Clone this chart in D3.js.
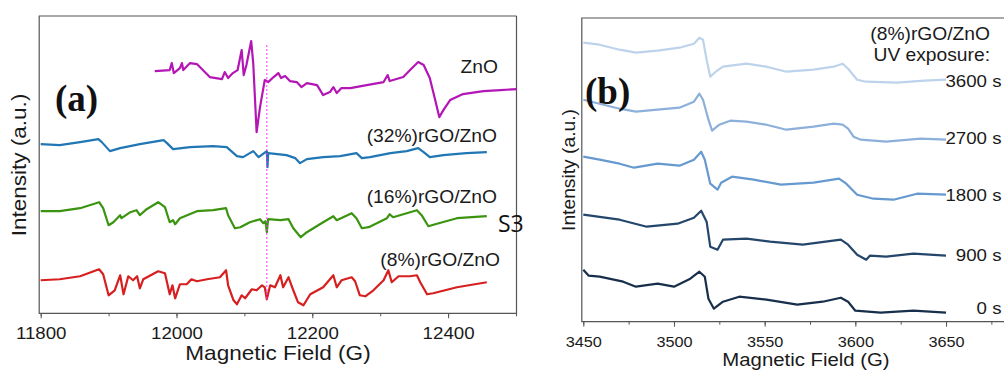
<!DOCTYPE html>
<html>
<head>
<meta charset="utf-8">
<script src="https://cdn.jsdelivr.net/npm/d3@7"></script>
<style>
  body { margin: 0; background: #fff; }
  svg { display: block; font-family: "Liberation Sans", Arial, sans-serif; }
  .axis path, .axis line { stroke: #555; }
</style>
</head>
<body>
<svg id="chart" width="1004" height="370"></svg>
<script>
// ---- panel (a) : EPR spectra, field in G, intensity in a.u. (stacked)
var znoSpec = [[11968,242],[11990,243],[11993,250],[11996,240],[12005,245],[12008,250],[12010,243],[12020,250],[12030,249],[12049,236],[12067,234],[12071,241],[12076,235],[12083,240],[12090,243],[12096,263],[12099,238],[12103,248],[12110,272],[12113,250],[12118,181],[12123,206],[12130,233],[12135,231],[12143,236],[12150,240],[12154,235],[12160,237],[12167,232],[12177,231],[12184,226],[12192,230],[12207,228],[12216,218],[12226,221],[12231,226],[12236,220],[12243,225],[12256,225],[12280,228],[12305,231],[12311,238],[12314,232],[12334,236],[12344,243],[12356,251],[12364,248],[12373,235],[12381,213],[12387,196],[12393,203],[12403,213],[12422,219],[12452,222],[12477,223],[12501,224]];
var rgo32Spec = [[11800,169],[11828,168],[11858,171],[11885,174],[11890,171],[11902,162],[11917,165],[11946,169],[11981,173],[11986,170],[11995,164],[12020,166],[12054,167],[12074,166],[12089,157],[12098,156],[12113,162],[12121,156],[12127,159],[12133,162],[12134,146],[12135,160],[12162,158],[12175,155],[12182,150],[12192,154],[12216,156],[12241,157],[12265,160],[12273,155],[12285,156],[12315,160],[12339,162],[12356,165],[12364,161],[12373,156],[12393,158],[12427,160],[12457,161]];
var rgo16Spec = [[11800,102],[11828,102],[11858,105],[11886,111],[11892,105],[11900,88],[11907,91],[11917,98],[11919,95],[11932,101],[11941,103],[11946,98],[11956,104],[11973,111],[11983,106],[11990,91],[11995,93],[11998,89],[12005,95],[12030,102],[12054,103],[12073,105],[12076,98],[12086,85],[12094,86],[12108,91],[12123,94],[12128,90],[12131,92],[12133,81],[12135,94],[12153,93],[12165,94],[12172,85],[12183,76],[12192,81],[12216,91],[12231,97],[12236,93],[12258,100],[12265,95],[12273,85],[12283,86],[12310,95],[12314,99],[12319,96],[12354,103],[12361,98],[12371,87],[12381,89],[12413,95],[12457,97]];
var rgo8Spec = [[11800,33],[11828,34],[11858,37],[11886,44],[11892,39],[11900,18],[11909,23],[11917,38],[11922,19],[11929,37],[11936,33],[11942,37],[11946,25],[11951,34],[11973,42],[11983,40],[11990,19],[11994,28],[11998,15],[12005,29],[12015,29],[12022,34],[12030,32],[12045,34],[12064,36],[12073,43],[12076,28],[12084,13],[12089,9],[12096,18],[12101,15],[12111,24],[12118,23],[12126,28],[12130,26],[12133,14],[12138,28],[12145,26],[12153,38],[12157,26],[12165,36],[12172,23],[12179,11],[12187,8],[12197,19],[12216,26],[12231,38],[12236,26],[12243,33],[12258,36],[12263,32],[12270,18],[12278,17],[12290,23],[12305,33],[12312,43],[12317,31],[12327,37],[12344,37],[12354,38],[12359,31],[12369,19],[12378,20],[12413,26],[12457,31]];
var seriesA = ["ZnO", "(32%)rGO/ZnO", "(16%)rGO/ZnO", "(8%)rGO/ZnO"];
var ticksA = [11800, 12000, 12200, 12400];
var markerField = 12133;   // dotted reference line

// ---- panel (b) : (8%)rGO/ZnO vs UV exposure
var uv3600 = [[3450,279],[3459,277],[3470,272],[3479,269],[3491,271],[3503,274],[3511,278],[3514,284],[3516,282],[3518,262],[3520,245],[3523,250],[3527,255],[3540,258],[3551,255],[3562,250],[3577,252],[3588,255],[3593,258],[3596,253],[3601,242],[3606,240],[3623,239],[3638,241],[3650,242]];
var uv2700 = [[3450,222],[3459,218],[3470,213],[3479,210],[3491,212],[3503,214],[3511,220],[3514,228],[3516,222],[3519,202],[3521,191],[3525,197],[3531,201],[3540,200],[3551,197],[3562,192],[3577,195],[3588,198],[3593,197],[3596,193],[3599,185],[3603,182],[3617,180],[3636,183],[3650,182]];
var uv1800 = [[3450,165],[3459,162],[3470,158],[3478,154],[3491,158],[3503,156],[3511,162],[3515,170],[3517,162],[3520,138],[3524,132],[3526,139],[3532,145],[3544,142],[3559,137],[3577,139],[3591,143],[3595,138],[3601,127],[3610,123],[3621,122],[3634,128],[3650,127]];
var uv900 = [[3450,107],[3470,102],[3485,95],[3502,98],[3511,104],[3515,111],[3518,100],[3520,75],[3524,72],[3527,82],[3540,83],[3553,80],[3571,77],[3592,82],[3596,77],[3601,67],[3606,62],[3608,66],[3617,65],[3632,68],[3650,66]];
var uv0 = [[3450,52],[3453,46],[3459,45],[3472,40],[3479,35],[3491,38],[3500,35],[3509,43],[3514,50],[3517,45],[3519,23],[3522,13],[3527,20],[3536,25],[3551,22],[3568,17],[3582,20],[3592,24],[3596,20],[3600,11],[3614,9],[3632,11],[3650,9]];
var seriesB = ["3600 s", "2700 s", "1800 s", "900 s", "0 s"];
var ticksB = [3450, 3500, 3550, 3600, 3650];

var SX = 1.1; // text in the figure is a bit wide
var ink = "#1a1a1a";

var svg = d3.select("#chart");
svg.append("rect").attr("width", 1004).attr("height", 370).attr("fill", "#fff");

function txt(g, x, y, s, size, anchor, extra) {
  var t = g.append("text")
    .attr("transform", "translate(" + x + "," + y + ")" + (extra || "") + " scale(" + SX + ",1)")
    .attr("font-size", size)
    .attr("text-anchor", anchor || "start")
    .attr("fill", ink)
    .text(s);
  return t;
}

function drawPanel(opt) {
  var g = svg.append("g");
  var x = d3.scaleLinear().domain(opt.xDomain).range(opt.xRange);
  var y = d3.scaleLinear().domain(opt.yDomain).range(opt.yRange);

  // minor ticks
  g.append("g").attr("class", "axis")
    .attr("transform", "translate(0," + opt.yRange[0] + ")")
    .call(d3.axisBottom(x).tickValues(opt.minor).tickSize(3).tickSizeOuter(0).tickFormat(""))
    .select(".domain").remove();
  // major ticks + labels
  var ax = g.append("g").attr("class", "axis")
    .attr("transform", "translate(0," + opt.yRange[0] + ")")
    .call(d3.axisBottom(x).tickValues(opt.major).tickSize(5).tickSizeOuter(0).tickFormat(d3.format("d")));
  ax.select(".domain").remove();
  ax.selectAll("text")
    .attr("dy", null).attr("y", opt.tickY)
    .attr("font-size", opt.tickSize)
    .attr("font-family", "Liberation Sans, Arial, sans-serif")
    .attr("fill", ink)
    .attr("transform", "scale(" + SX + ",1)");

  // frame
  var x0 = opt.xRange[0] - 1.5, x1 = opt.frameRight;
  g.append("path")
    .attr("d", "M" + x1 + "," + opt.yRange[1] + "H" + x0 + "V" + opt.yRange[0] + "H" + x1 + (opt.closed ? "V" + opt.yRange[1] : ""))
    .attr("fill", "none").attr("stroke", "#555").attr("stroke-width", 1.2);

  var line = d3.line().x(function(d) { return x(d[0]); }).y(function(d) { return y(d[1]); });
  opt.curves.forEach(function(c) {
    g.append("path").datum(c.data)
      .attr("d", line)
      .attr("fill", "none")
      .attr("stroke", c.color)
      .attr("stroke-width", 2.2)
      .attr("stroke-linejoin", "round");
  });
  return { g: g, x: x, y: y };
}

// ---------- panel (a)
var pa = drawPanel({
  xDomain: [11800, 12500], xRange: [40.7, 516],
  yDomain: [0, 297], yRange: [313.3, 16],
  major: ticksA, minor: d3.range(11800, 12501, 100),
  tickY: 26, tickSize: 17,
  frameRight: 516.5, closed: true,
  curves: [
    { data: znoSpec, color: "#b416b6" },
    { data: rgo32Spec, color: "#2077b4" },
    { data: rgo16Spec, color: "#3b9410" },
    { data: rgo8Spec, color: "#d71f1f" }
  ]
});

pa.g.append("line")
  .attr("x1", pa.x(markerField)).attr("x2", pa.x(markerField))
  .attr("y1", pa.y(268)).attr("y2", pa.y(13))
  .attr("stroke", "#ff33ff").attr("stroke-width", 1)
  .attr("stroke-dasharray", "2,2");

var labA = [[498, 72.5], [497, 141.5], [497, 202.5], [500, 266]];
seriesA.forEach(function(s, i) { txt(pa.g, labA[i][0], labA[i][1], s, 17.5, "end"); });

pa.g.append("text")
  .attr("x", 55).attr("y", 111)
  .attr("font-family", "Liberation Serif, Times New Roman, serif")
  .attr("font-weight", "bold").attr("font-size", 37)
  .attr("fill", "#111").text("(a)");

txt(pa.g, 278, 360, "Magnetic Field (G)", 20.5, "middle");
txt(pa.g, 26, 165, "Intensity (a.u.)", 20.5, "middle", " rotate(-90)");

svg.append("text")
  .attr("x", 498).attr("y", 231.5)
  .attr("font-family", "Open Sans, Noto Sans, sans-serif")
  .attr("font-size", 23).attr("fill", "#111").text("S3");

// ---------- panel (b)
var pb = drawPanel({
  xDomain: [3450, 3700], xRange: [583.3, 1036.7],
  yDomain: [0, 303.7], yRange: [321.7, 18],
  major: ticksB, minor: d3.range(3450, 3701, 25),
  tickY: 25.6, tickSize: 14.8,
  frameRight: 1010, closed: false,
  curves: [
    { data: uv3600, color: "#bdd3ec" },
    { data: uv2700, color: "#8db0da" },
    { data: uv1800, color: "#6699cf" },
    { data: uv900, color: "#24466b" },
    { data: uv0, color: "#182f4b" }
  ]
});

var labB = [87.3, 144, 200.7, 260.7, 314];
seriesB.forEach(function(s, i) { txt(pb.g, 1001.5, labB[i], s, 17, "end"); });
txt(pb.g, 990, 40, "(8%)rGO/ZnO", 17.5, "end");
txt(pb.g, 990, 61, "UV exposure:", 17.5, "end");

pb.g.append("text")
  .attr("x", 585).attr("y", 104)
  .attr("font-family", "Liberation Serif, Times New Roman, serif")
  .attr("font-weight", "bold").attr("font-size", 37)
  .attr("fill", "#111").text("(b)");

txt(pb.g, 806, 366, "Magnetic Field (G)", 18.5, "middle");
txt(pb.g, 575, 170, "Intensity (a.u.)", 17.5, "middle", " rotate(-90)");
</script>
</body>
</html>
